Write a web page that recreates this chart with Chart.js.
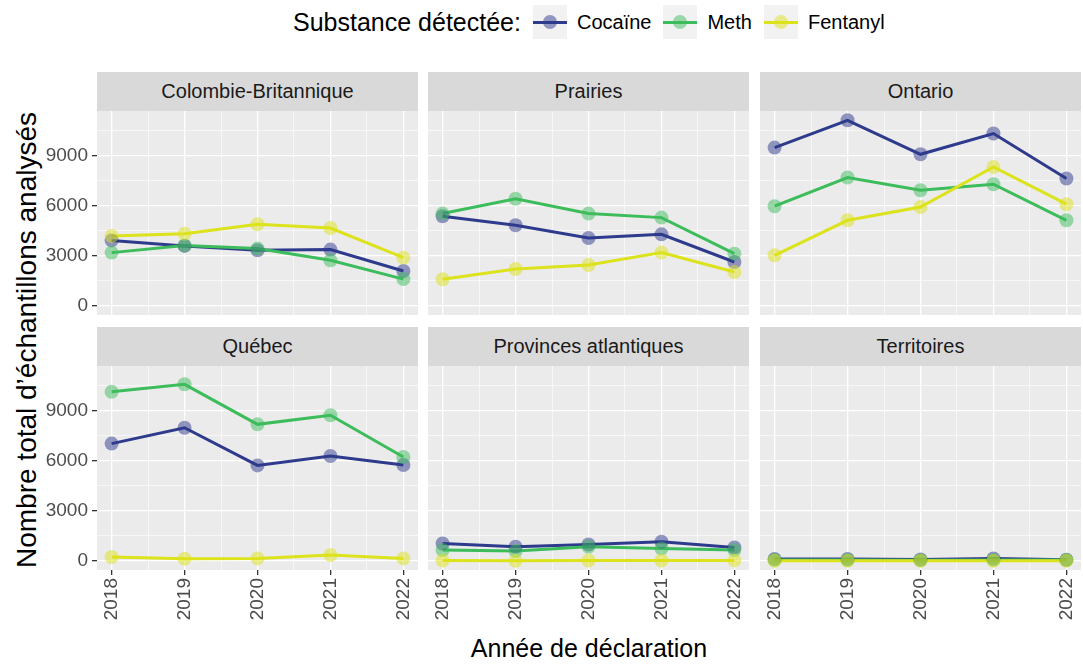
<!DOCTYPE html>
<html lang="fr">
<head>
<meta charset="utf-8">
<title>Échantillons analysés par région</title>
<script src="https://cdn.jsdelivr.net/npm/chart.js@4/dist/chart.umd.min.js"></script>
<style>
  html, body { margin: 0; padding: 0; background: #ffffff; }
  #page { position: relative; width: 1083px; height: 665px; overflow: hidden;
          font-family: "Liberation Sans", Arial, Helvetica, sans-serif; }
  .strip { position: absolute; background: #d9d9d9; color: #1a1a1a; font-size: 20px;
           display: flex; align-items: center; justify-content: center; white-space: nowrap; }
  canvas { position: absolute; }
  .title { position: absolute; white-space: nowrap; color: #000; font-size: 25px;
           transform: translate(-50%, -50%); }
  #ytitle { font-size: 28px; transform: translate(-50%, -50%) rotate(-90deg); }
  #legend { position: absolute; left: 293px; top: 4px; height: 36px; display: flex; align-items: center; }
  #legend .ltitle { font-size: 25px; color: #000; white-space: nowrap; }
  #legend .key { position: relative; width: 34px; height: 34px; background: #f2f2f2; margin-left: 12px; flex: none; }
  #legend .kline { position: absolute; left: 0; right: 0; top: 15.5px; height: 3px; }
  #legend .kdot { position: absolute; left: 10px; top: 10px; width: 14px; height: 14px; border-radius: 50%; }
  #legend .klabel { font-size: 20px; color: #000; margin-left: 10px; white-space: nowrap; }
</style>
</head>
<body>
<div id="page">
  <div id="legend"><span class="ltitle">Substance détectée:</span></div>
  <div class="title" id="ytitle" style="left:27px; top:340px;">Nombre total d’échantillons analysés</div>
  <div class="title" id="xtitle" style="left:589px; top:648px;">Année de déclaration</div>
</div>
<script>
// ---- Data ----
const years = [2018, 2019, 2020, 2021, 2022];
const regions = ['Colombie-Britannique', 'Prairies', 'Ontario', 'Québec', 'Provinces atlantiques', 'Territoires'];
const substances = ['Cocaïne', 'Meth', 'Fentanyl'];

// one row per region (same order as `regions`), one value per year
const cocaine = [
  [3920, 3590, 3330, 3370, 2090],
  [5360, 4820, 4060, 4280, 2630],
  [9460, 11090, 9060, 10300, 7610],
  [7010, 7960, 5710, 6270, 5730],
  [1050, 850, 990, 1150, 810],
  [130, 120, 100, 150, 80]
];
const meth = [
  [3190, 3620, 3430, 2730, 1610],
  [5520, 6410, 5520, 5280, 3130],
  [5960, 7670, 6910, 7270, 5120],
  [10100, 10550, 8160, 8700, 6210],
  [660, 600, 850, 750, 660],
  [60, 60, 50, 70, 60]
];
const fentanyl = [
  [4180, 4320, 4880, 4660, 2890],
  [1600, 2210, 2450, 3190, 2030],
  [3030, 5120, 5910, 8300, 6080],
  [240, 140, 160, 360, 160],
  [30, 20, 30, 30, 40],
  [20, 20, 20, 20, 20]
];
const yTickLabels = [0, 3000, 6000, 9000];

// ---- Styles ----
const seriesColors = ['#2E3A8C', '#3DBC5C', '#DCE21C'];
const FONT = '"Liberation Sans", Arial, Helvetica, sans-serif';
function rgba(hex, a) {
  const n = parseInt(hex.slice(1), 16);
  return `rgba(${(n >> 16) & 255}, ${(n >> 8) & 255}, ${n & 255}, ${a})`;
}

// ---- Shared scales (facets share both axes) ----
const series = [cocaine, meth, fentanyl];
const allValues = series.flat(2);
const lo = Math.min(...allValues), hi = Math.max(...allValues);
const yMin = lo - 0.05 * (hi - lo), yMax = hi + 0.05 * (hi - lo);
const xSpan = years[years.length - 1] - years[0];
const xMin = years[0] - 0.05 * xSpan, xMax = years[years.length - 1] + 0.05 * xSpan;

const yStep = yTickLabels[1] - yTickLabels[0];
const yGrid = [];
for (let v = Math.ceil(yMin / (yStep / 2)) * (yStep / 2); v <= yMax; v += yStep / 2) yGrid.push(v);
const xGrid = [];
for (let v = years[0]; v <= years[years.length - 1]; v += 0.5) xGrid.push(v);

const isMajorY = v => yTickLabels.includes(v);
const isMajorX = v => years.includes(v);

// ---- Facet layout ----
const colLeft = [97, 428, 760];
const rowTop = [111, 366];
const panelW = 321, panelH = 204, stripH = 39;
const L = 62, B = 62;   // room for tick labels

function noPadding(s) {
  s.paddingTop = 0; s.paddingBottom = 0; s.paddingLeft = 0; s.paddingRight = 0;
}

const panelBg = {
  id: 'panelBg',
  beforeDraw(chart) {
    const { ctx, chartArea: a } = chart;
    ctx.save();
    ctx.fillStyle = '#ebebeb';
    ctx.fillRect(a.left, a.top, a.right - a.left, a.bottom - a.top);
    ctx.restore();
  }
};

const page = document.getElementById('page');

// legend
const legend = document.getElementById('legend');
substances.forEach((name, k) => {
  const key = document.createElement('div');
  key.className = 'key';
  const line = document.createElement('div');
  line.className = 'kline';
  line.style.background = seriesColors[k];
  const dot = document.createElement('div');
  dot.className = 'kdot';
  dot.style.background = rgba(seriesColors[k], 0.5);
  key.appendChild(line); key.appendChild(dot);
  const lab = document.createElement('span');
  lab.className = 'klabel';
  lab.textContent = name;
  legend.appendChild(key); legend.appendChild(lab);
});

regions.forEach((region, r) => {
  const col = r % 3, row = Math.floor(r / 3);
  const showY = col === 0, showX = row === 1;

  const strip = document.createElement('div');
  strip.className = 'strip';
  strip.textContent = region;
  Object.assign(strip.style, {
    left: colLeft[col] + 'px', top: (rowTop[row] - stripH) + 'px',
    width: panelW + 'px', height: stripH + 'px'
  });
  page.appendChild(strip);

  const canvas = document.createElement('canvas');
  canvas.width = L + panelW;
  canvas.height = panelH + B;
  canvas.style.left = (colLeft[col] - L) + 'px';
  canvas.style.top = rowTop[row] + 'px';
  page.appendChild(canvas);

  const lines = series.map((s, k) => ({
    label: substances[k],
    data: years.map((x, i) => ({ x, y: s[r][i] })),
    borderColor: seriesColors[k],
    borderWidth: 3,
    pointRadius: 0,
    fill: false,
    tension: 0,
    order: 6 - k
  }));
  const points = series.map((s, k) => ({
    label: substances[k],
    data: years.map((x, i) => ({ x, y: s[r][i] })),
    showLine: false,
    pointRadius: 7,
    pointBackgroundColor: rgba(seriesColors[k], 0.5),
    pointBorderWidth: 0,
    order: 3 - k
  }));

  new Chart(canvas, {
    type: 'line',
    data: { datasets: [...lines, ...points] },
    plugins: [panelBg],
    options: {
      responsive: false,
      animation: false,
      devicePixelRatio: 1,
      events: [],
      layout: { padding: 0, autoPadding: false },
      plugins: { legend: { display: false }, tooltip: { enabled: false } },
      scales: {
        x: {
          type: 'linear', min: xMin, max: xMax,
          border: { display: false },
          afterBuildTicks: s => { s.ticks = xGrid.map(v => ({ value: v })); },
          afterFit: s => { s.height = B; noPadding(s); },
          grid: {
            color: '#ffffff',
            lineWidth: c => (c.tick && isMajorX(c.tick.value)) ? 1.3 : 0.6,
            tickLength: 5,
            tickWidth: 1.3,
            tickColor: c => (showX && c.tick && isMajorX(c.tick.value)) ? '#333333' : 'rgba(0,0,0,0)'
          },
          ticks: {
            autoSkip: false, minRotation: 90, maxRotation: 90, padding: 3,
            color: showX ? '#4d4d4d' : 'rgba(0,0,0,0)',
            font: { family: FONT, size: 19 },
            callback: v => isMajorX(v) ? String(v) : ''
          }
        },
        y: {
          type: 'linear', min: yMin, max: yMax,
          border: { display: false },
          afterBuildTicks: s => { s.ticks = yGrid.map(v => ({ value: v })); },
          afterFit: s => { s.width = L; noPadding(s); },
          grid: {
            color: '#ffffff',
            lineWidth: c => (c.tick && isMajorY(c.tick.value)) ? 1.3 : 0.6,
            tickLength: 5,
            tickWidth: 1.3,
            tickColor: c => (showY && c.tick && isMajorY(c.tick.value)) ? '#333333' : 'rgba(0,0,0,0)'
          },
          ticks: {
            padding: 4,
            color: showY ? '#4d4d4d' : 'rgba(0,0,0,0)',
            font: { family: FONT, size: 19 },
            callback: v => isMajorY(v) ? String(v) : ''
          }
        }
      }
    }
  });
});
</script>
</body>
</html>
